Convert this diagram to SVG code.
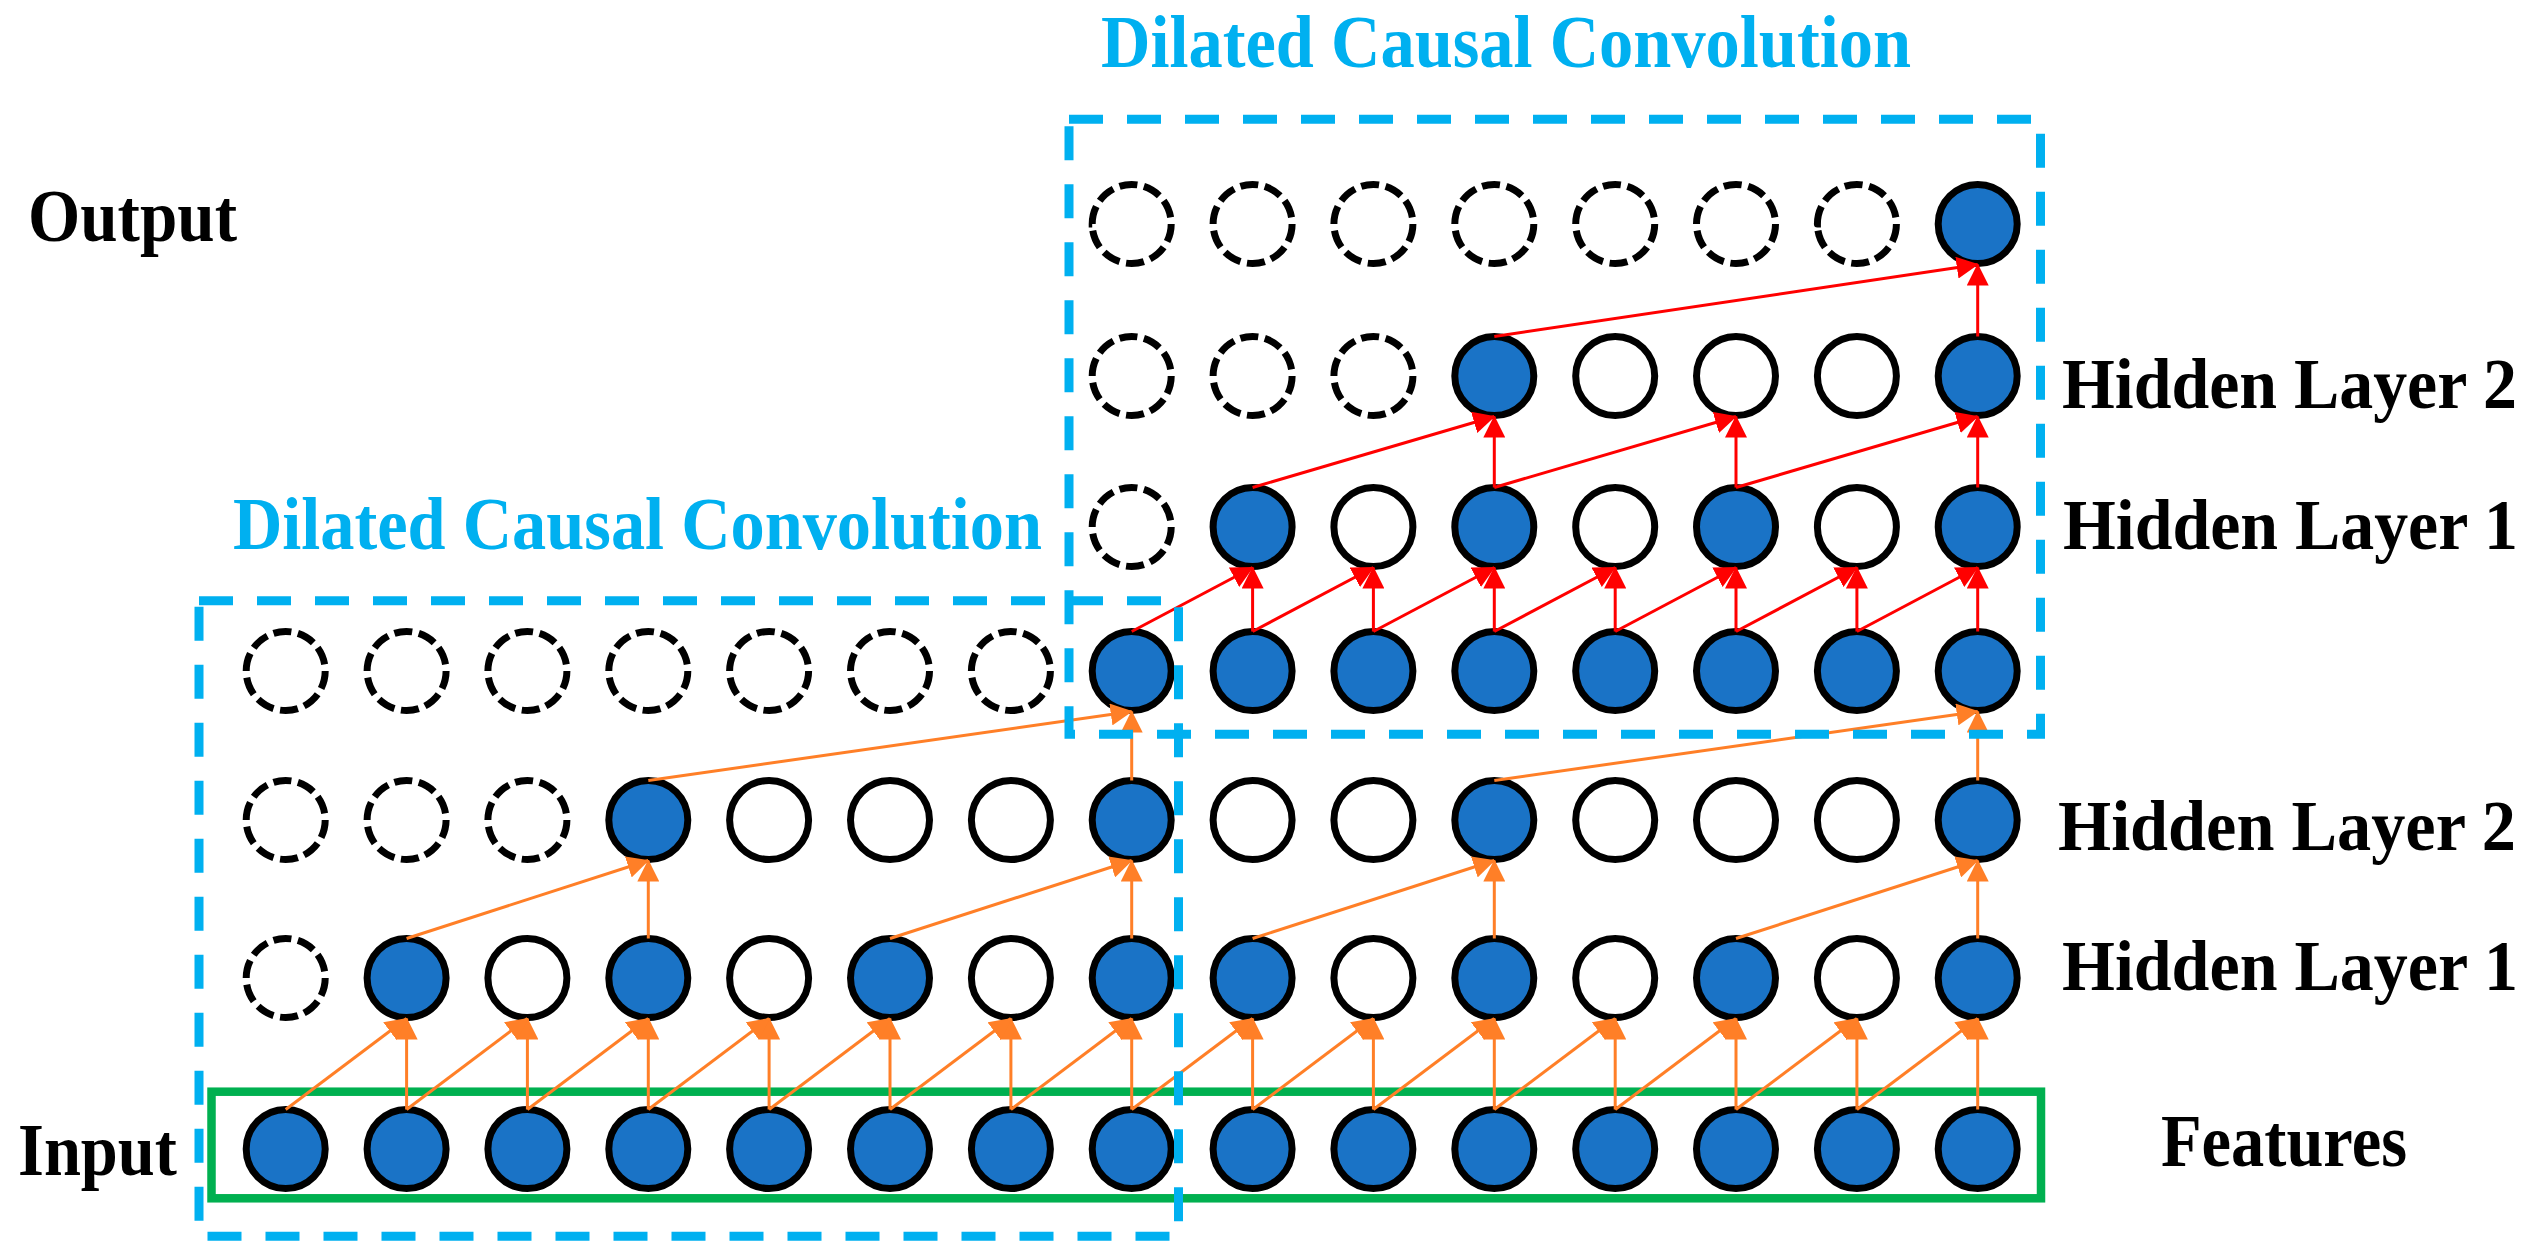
<svg xmlns="http://www.w3.org/2000/svg" width="2543" height="1257" viewBox="0 0 2543 1257">
<defs>
<style>
.lbl{font-family:"Liberation Serif","Times New Roman",serif;font-weight:bold;font-size:74px;fill:#000}
.hl{font-size:71px}
.ttl{font-family:"Liberation Serif","Times New Roman",serif;font-weight:bold;font-size:74px;fill:#00B0F0}
.F{fill:#1A73C6;stroke:#000;stroke-width:7}
.E{fill:#fff;stroke:#000;stroke-width:7}
.D{fill:#fff;stroke:#000;stroke-width:7;stroke-dasharray:7.3 2.7}
.box{fill:none;stroke:#00B0F0;stroke-width:9;stroke-dasharray:34 24}
.grn{fill:none;stroke:#00B050;stroke-width:8.5}
.o{stroke:#FF7F27;stroke-width:3;fill:none;marker-end:url(#ao)}
.r{stroke:#FF0000;stroke-width:3;fill:none;marker-end:url(#ar)}
</style>
<marker id="ao" viewBox="0 0 22 22" markerWidth="22" markerHeight="22" markerUnits="userSpaceOnUse" refX="21" refY="11" orient="auto"><path d="M0,0 L22,11 L0,22 z" fill="#FF7F27"/></marker>
<marker id="ar" viewBox="0 0 22 22" markerWidth="22" markerHeight="22" markerUnits="userSpaceOnUse" refX="21" refY="11" orient="auto"><path d="M0,0 L22,11 L0,22 z" fill="#FF0000"/></marker>
</defs>
<rect width="2543" height="1257" fill="#fff"/>

<g id="features-box"><rect class="grn" x="211.5" y="1091.7" width="1829.5" height="106.6"/></g>

<!-- Input row -->
<g id="input-row">
<circle class="F" cx="285.7" cy="1149" r="39.5"/><circle class="F" cx="406.6" cy="1149" r="39.5"/><circle class="F" cx="527.4" cy="1149" r="39.5"/><circle class="F" cx="648.3" cy="1149" r="39.5"/><circle class="F" cx="769.1" cy="1149" r="39.5"/><circle class="F" cx="890" cy="1149" r="39.5"/><circle class="F" cx="1010.9" cy="1149" r="39.5"/><circle class="F" cx="1131.7" cy="1149" r="39.5"/><circle class="F" cx="1252.6" cy="1149" r="39.5"/><circle class="F" cx="1373.4" cy="1149" r="39.5"/><circle class="F" cx="1494.3" cy="1149" r="39.5"/><circle class="F" cx="1615.2" cy="1149" r="39.5"/><circle class="F" cx="1736" cy="1149" r="39.5"/><circle class="F" cx="1856.9" cy="1149" r="39.5"/><circle class="F" cx="1977.7" cy="1149" r="39.5"/>
</g>
<!-- Hidden layer 1 lower -->
<g id="hidden1-lower">
<circle class="D" pathLength="100" cx="285.7" cy="978" r="39.5"/><circle class="F" cx="406.6" cy="978" r="39.5"/><circle class="E" cx="527.4" cy="978" r="39.5"/><circle class="F" cx="648.3" cy="978" r="39.5"/><circle class="E" cx="769.1" cy="978" r="39.5"/><circle class="F" cx="890" cy="978" r="39.5"/><circle class="E" cx="1010.9" cy="978" r="39.5"/><circle class="F" cx="1131.7" cy="978" r="39.5"/><circle class="F" cx="1252.6" cy="978" r="39.5"/><circle class="E" cx="1373.4" cy="978" r="39.5"/><circle class="F" cx="1494.3" cy="978" r="39.5"/><circle class="E" cx="1615.2" cy="978" r="39.5"/><circle class="F" cx="1736" cy="978" r="39.5"/><circle class="E" cx="1856.9" cy="978" r="39.5"/><circle class="F" cx="1977.7" cy="978" r="39.5"/>
</g>
<!-- Hidden layer 2 lower -->
<g id="hidden2-lower">
<circle class="D" pathLength="100" cx="285.7" cy="820" r="39.5"/><circle class="D" pathLength="100" cx="406.6" cy="820" r="39.5"/><circle class="D" pathLength="100" cx="527.4" cy="820" r="39.5"/><circle class="F" cx="648.3" cy="820" r="39.5"/><circle class="E" cx="769.1" cy="820" r="39.5"/><circle class="E" cx="890" cy="820" r="39.5"/><circle class="E" cx="1010.9" cy="820" r="39.5"/><circle class="F" cx="1131.7" cy="820" r="39.5"/><circle class="E" cx="1252.6" cy="820" r="39.5"/><circle class="E" cx="1373.4" cy="820" r="39.5"/><circle class="F" cx="1494.3" cy="820" r="39.5"/><circle class="E" cx="1615.2" cy="820" r="39.5"/><circle class="E" cx="1736" cy="820" r="39.5"/><circle class="E" cx="1856.9" cy="820" r="39.5"/><circle class="F" cx="1977.7" cy="820" r="39.5"/>
</g>
<!-- Row 4 (lower output / upper input) -->
<g id="middle-row">
<circle class="D" pathLength="100" cx="285.7" cy="671" r="39.5"/><circle class="D" pathLength="100" cx="406.6" cy="671" r="39.5"/><circle class="D" pathLength="100" cx="527.4" cy="671" r="39.5"/><circle class="D" pathLength="100" cx="648.3" cy="671" r="39.5"/><circle class="D" pathLength="100" cx="769.1" cy="671" r="39.5"/><circle class="D" pathLength="100" cx="890" cy="671" r="39.5"/><circle class="D" pathLength="100" cx="1010.9" cy="671" r="39.5"/><circle class="F" cx="1131.7" cy="671" r="39.5"/><circle class="F" cx="1252.6" cy="671" r="39.5"/><circle class="F" cx="1373.4" cy="671" r="39.5"/><circle class="F" cx="1494.3" cy="671" r="39.5"/><circle class="F" cx="1615.2" cy="671" r="39.5"/><circle class="F" cx="1736" cy="671" r="39.5"/><circle class="F" cx="1856.9" cy="671" r="39.5"/><circle class="F" cx="1977.7" cy="671" r="39.5"/>
</g>
<!-- Hidden layer 1 upper -->
<g id="hidden1-upper">
<circle class="D" pathLength="100" cx="1131.7" cy="527" r="39.5"/><circle class="F" cx="1252.6" cy="527" r="39.5"/><circle class="E" cx="1373.4" cy="527" r="39.5"/><circle class="F" cx="1494.3" cy="527" r="39.5"/><circle class="E" cx="1615.2" cy="527" r="39.5"/><circle class="F" cx="1736" cy="527" r="39.5"/><circle class="E" cx="1856.9" cy="527" r="39.5"/><circle class="F" cx="1977.7" cy="527" r="39.5"/>
</g>
<!-- Hidden layer 2 upper -->
<g id="hidden2-upper">
<circle class="D" pathLength="100" cx="1131.7" cy="376" r="39.5"/><circle class="D" pathLength="100" cx="1252.6" cy="376" r="39.5"/><circle class="D" pathLength="100" cx="1373.4" cy="376" r="39.5"/><circle class="F" cx="1494.3" cy="376" r="39.5"/><circle class="E" cx="1615.2" cy="376" r="39.5"/><circle class="E" cx="1736" cy="376" r="39.5"/><circle class="E" cx="1856.9" cy="376" r="39.5"/><circle class="F" cx="1977.7" cy="376" r="39.5"/>
</g>
<!-- Output row -->
<g id="output-row">
<circle class="D" pathLength="100" cx="1131.7" cy="224" r="39.5"/><circle class="D" pathLength="100" cx="1252.6" cy="224" r="39.5"/><circle class="D" pathLength="100" cx="1373.4" cy="224" r="39.5"/><circle class="D" pathLength="100" cx="1494.3" cy="224" r="39.5"/><circle class="D" pathLength="100" cx="1615.2" cy="224" r="39.5"/><circle class="D" pathLength="100" cx="1736" cy="224" r="39.5"/><circle class="D" pathLength="100" cx="1856.9" cy="224" r="39.5"/><circle class="F" cx="1977.7" cy="224" r="39.5"/>
</g>

<g id="connectors">
<!-- input -> hidden1 lower -->
<path class="o" d="M406.6,1109.5V1018.5"/><path class="o" d="M285.7,1109.5L406.6,1018.5"/>
<path class="o" d="M527.4,1109.5V1018.5"/><path class="o" d="M406.6,1109.5L527.4,1018.5"/>
<path class="o" d="M648.3,1109.5V1018.5"/><path class="o" d="M527.4,1109.5L648.3,1018.5"/>
<path class="o" d="M769.1,1109.5V1018.5"/><path class="o" d="M648.3,1109.5L769.1,1018.5"/>
<path class="o" d="M890,1109.5V1018.5"/><path class="o" d="M769.1,1109.5L890,1018.5"/>
<path class="o" d="M1010.9,1109.5V1018.5"/><path class="o" d="M890,1109.5L1010.9,1018.5"/>
<path class="o" d="M1131.7,1109.5V1018.5"/><path class="o" d="M1010.9,1109.5L1131.7,1018.5"/>
<path class="o" d="M1252.6,1109.5V1018.5"/><path class="o" d="M1131.7,1109.5L1252.6,1018.5"/>
<path class="o" d="M1373.4,1109.5V1018.5"/><path class="o" d="M1252.6,1109.5L1373.4,1018.5"/>
<path class="o" d="M1494.3,1109.5V1018.5"/><path class="o" d="M1373.4,1109.5L1494.3,1018.5"/>
<path class="o" d="M1615.2,1109.5V1018.5"/><path class="o" d="M1494.3,1109.5L1615.2,1018.5"/>
<path class="o" d="M1736,1109.5V1018.5"/><path class="o" d="M1615.2,1109.5L1736,1018.5"/>
<path class="o" d="M1856.9,1109.5V1018.5"/><path class="o" d="M1736,1109.5L1856.9,1018.5"/>
<path class="o" d="M1977.7,1109.5V1018.5"/><path class="o" d="M1856.9,1109.5L1977.7,1018.5"/>
<!-- hidden1 lower -> hidden2 lower -->
<path class="o" d="M648.3,938.5V860.5"/><path class="o" d="M406.6,938.5L648.3,860.5"/>
<path class="o" d="M1131.7,938.5V860.5"/><path class="o" d="M890,938.5L1131.7,860.5"/>
<path class="o" d="M1494.3,938.5V860.5"/><path class="o" d="M1252.6,938.5L1494.3,860.5"/>
<path class="o" d="M1977.7,938.5V860.5"/><path class="o" d="M1736,938.5L1977.7,860.5"/>
<!-- hidden2 lower -> middle row -->
<path class="o" d="M1131.7,780.5V711.5"/><path class="o" d="M648.3,780.5L1131.7,711.5"/>
<path class="o" d="M1977.7,780.5V711.5"/><path class="o" d="M1494.3,780.5L1977.7,711.5"/>
<!-- middle row -> hidden1 upper -->
<path class="r" d="M1252.6,631.5V567.5"/><path class="r" d="M1131.7,631.5L1252.6,567.5"/>
<path class="r" d="M1373.4,631.5V567.5"/><path class="r" d="M1252.6,631.5L1373.4,567.5"/>
<path class="r" d="M1494.3,631.5V567.5"/><path class="r" d="M1373.4,631.5L1494.3,567.5"/>
<path class="r" d="M1615.2,631.5V567.5"/><path class="r" d="M1494.3,631.5L1615.2,567.5"/>
<path class="r" d="M1736,631.5V567.5"/><path class="r" d="M1615.2,631.5L1736,567.5"/>
<path class="r" d="M1856.9,631.5V567.5"/><path class="r" d="M1736,631.5L1856.9,567.5"/>
<path class="r" d="M1977.7,631.5V567.5"/><path class="r" d="M1856.9,631.5L1977.7,567.5"/>
<!-- hidden1 upper -> hidden2 upper -->
<path class="r" d="M1494.3,487.5V416.5"/><path class="r" d="M1252.6,487.5L1494.3,416.5"/>
<path class="r" d="M1736,487.5V416.5"/><path class="r" d="M1494.3,487.5L1736,416.5"/>
<path class="r" d="M1977.7,487.5V416.5"/><path class="r" d="M1736,487.5L1977.7,416.5"/>
<!-- hidden2 upper -> output -->
<path class="r" d="M1977.7,336.5V264.5"/><path class="r" d="M1494.3,336.5L1977.7,264.5"/>
</g>

<g id="conv-boxes">
<rect class="box" x="1069" y="119.3" width="971.5" height="615"/>
<rect class="box" x="199" y="600.7" width="979.5" height="635.5"/>
</g>

<g id="labels">
<text class="ttl" x="1101" y="67" textLength="810" lengthAdjust="spacingAndGlyphs">Dilated Causal Convolution</text>
<text class="ttl" x="233" y="549" textLength="809" lengthAdjust="spacingAndGlyphs">Dilated Causal Convolution</text>
<text class="lbl" x="28" y="241" textLength="209" lengthAdjust="spacingAndGlyphs">Output</text>
<text class="lbl" x="18" y="1175" textLength="159" lengthAdjust="spacingAndGlyphs">Input</text>
<text class="lbl hl" x="2062" y="408" textLength="455" lengthAdjust="spacingAndGlyphs">Hidden Layer 2</text>
<text class="lbl hl" x="2063" y="549" textLength="455" lengthAdjust="spacingAndGlyphs">Hidden Layer 1</text>
<text class="lbl hl" x="2058" y="850" textLength="458" lengthAdjust="spacingAndGlyphs">Hidden Layer 2</text>
<text class="lbl hl" x="2062" y="990" textLength="456" lengthAdjust="spacingAndGlyphs">Hidden Layer 1</text>
<text class="lbl" x="2161" y="1166" textLength="246" lengthAdjust="spacingAndGlyphs">Features</text>
</g>
</svg>
